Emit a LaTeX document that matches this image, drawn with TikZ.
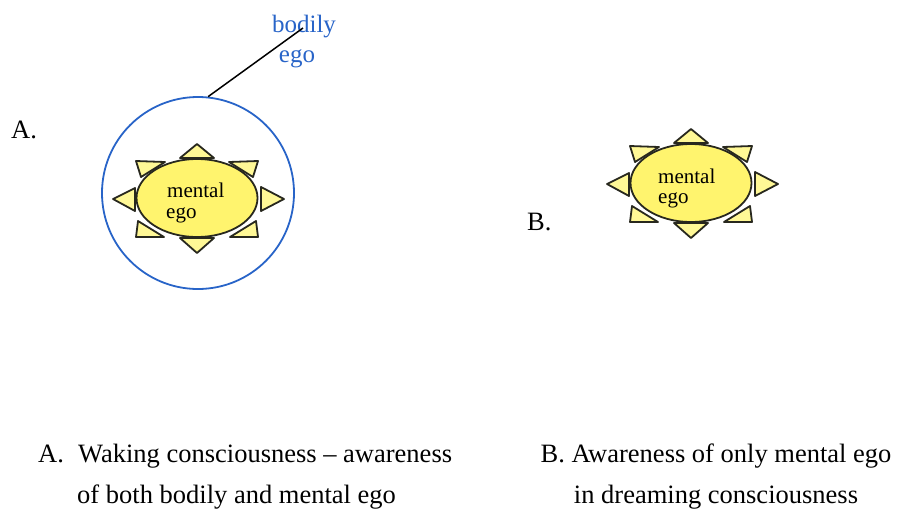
\documentclass[tikz,border=0pt]{standalone}
\usepackage{fontspec}
\setmainfont{Liberation Serif}
\usetikzlibrary{shapes.geometric}
\definecolor{egoblue}{RGB}{40,100,200}
\definecolor{sunfill}{RGB}{255,244,110}
\definecolor{rayfill}{RGB}{255,248,150}
\definecolor{edge}{RGB}{40,40,30}
% the eight little triangles round a mental ego
\newcommand{\sunrays}{%
  \draw [ray] (0,-54) -- (-17,-40) -- (17,-40) -- cycle;
  \draw [ray] (0,55) -- (-17,40) -- (17,40) -- cycle;
  \draw [ray] (-84,1) -- (-62,-10) -- (-62,13) -- cycle;
  \draw [ray] (87,1) -- (64,-11) -- (64,13) -- cycle;
  \draw [ray] (-61,-37) -- (-32,-36) -- (-56,-21) -- cycle;
  \draw [ray] (61,-37) -- (32,-36) -- (56,-21) -- cycle;
  \draw [ray] (-59,23) -- (-61,39) -- (-33,39) -- cycle;
  \draw [ray] (59,23) -- (61,39) -- (33,39) -- cycle;
}
\begin{document}
\begin{tikzpicture}[x=1pt, y=-1pt,
    ray/.style={draw=edge, line width=1.8pt, fill=rayfill, line join=round},
    mind/.style={ellipse, draw=edge, line width=1.8pt, fill=sunfill,
      minimum width=121pt, minimum height=78pt, inner sep=0pt},
    body/.style={circle, draw=egoblue, line width=1.8pt, minimum size=192pt, inner sep=0pt},
    word/.style={font=\fontsize{21}{21}\selectfont, inner sep=0pt, anchor=base west},
    captext/.style={font=\fontsize{26.5}{26.5}\selectfont, inner sep=0pt}]
  \useasboundingbox (0,0) rectangle (901,512);
%  \draw [help lines] (0,0) rectangle (901,512);

  % A: waking
  \node [captext, anchor=base west] (labA) at (11,138) {A.};
  \node [body] (bodyA) at (198,193) {};
  \begin{scope}[shift={(197,198)}]
    \sunrays
  \end{scope}
  \node [mind] (mindA) at (197,198) {};
  \node [word] (mentA) at (167,197) {mental};
  \node [word] (egoA) at (166,218) {ego};
  \node [captext, egoblue, font=\fontsize{25}{25}\selectfont, anchor=base] (bodily) at (304,32) {bodily};
  \node [captext, egoblue, font=\fontsize{25}{25}\selectfont, anchor=base] (bodyego) at (297,62) {ego};
  \coordinate (tip) at (303,28);
  \draw [line width=1.5pt] (bodyA.84) -- (tip);

  % B: dreaming
  \node [captext, anchor=base west] (labB) at (527,230) {B.};
  \begin{scope}[shift={(691,183)}]
    \sunrays
  \end{scope}
  \node [mind] (mindB) at (691,183) {};
  \node [word] (mentB) at (658,183) {mental};
  \node [word] (egoB) at (658,203) {ego};

  % captions
  \node [captext, anchor=base west] (capA) at (38,462) {A.};
  \node [captext, anchor=base west] (capA1) at (78,462) {Waking consciousness -- awareness};
  \node [captext, anchor=base west] (capA2) at (77,503) {of both bodily and mental ego};
  \node [captext, anchor=base] (capB1) at (716,462) {B. Awareness of only mental ego};
  \node [captext, anchor=base] (capB2) at (716,503) {in dreaming consciousness};
\end{tikzpicture}
\end{document}
